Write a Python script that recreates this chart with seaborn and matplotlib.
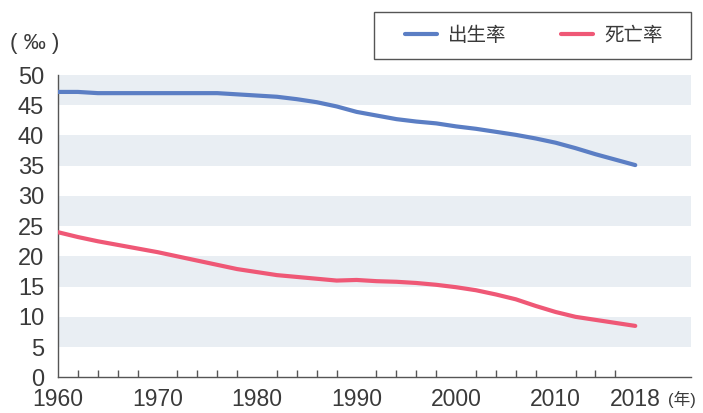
import pandas as pd
import matplotlib.pyplot as plt
import matplotlib.ticker as mticker
from matplotlib.patches import Rectangle
import seaborn as sns

years = list(range(1960, 2019, 2))
birth_rate = [47.2, 47.2, 47.0, 47.0, 47.0, 47.0, 47.0, 47.0, 47.0, 46.8,
              46.6, 46.4, 46.0, 45.5, 44.8, 43.9, 43.3, 42.7, 42.3, 42.0,
              41.5, 41.1, 40.6, 40.1, 39.5, 38.8, 37.9, 36.9, 36.0, 35.1]
death_rate = [24.0, 23.2, 22.5, 21.9, 21.3, 20.7, 20.0, 19.3, 18.6, 17.9,
              17.4, 16.9, 16.6, 16.3, 16.0, 16.1, 15.9, 15.8, 15.6, 15.3,
              14.9, 14.4, 13.7, 12.9, 11.8, 10.8, 10.0, 9.5, 9.0, 8.5]
series_names = ['出生率', '死亡率']
x_ticks = [1960, 1970, 1980, 1990, 2000, 2010, 2018]

df = pd.concat([
    pd.DataFrame({'year': years, 'rate': birth_rate, 'series': series_names[0]}),
    pd.DataFrame({'year': years, 'rate': death_rate, 'series': series_names[1]}),
])

sns.set_theme(style='white')
plt.rcParams['font.family'] = ['Liberation Sans', 'Noto Sans CJK SC', 'DejaVu Sans']
text_color = '#3a3a3a'
colors = ['#5b7ec4', '#ef5876']

fig = plt.figure(figsize=(7.03, 4.13), dpi=100)
ax = fig.add_axes([58 / 703, 1 - 377.3 / 413, 633 / 703, 302.3 / 413])

# alternating grey bands
for lo in range(5, 50, 10):
    ax.axhspan(lo, lo + 5, color='#e9eef3', lw=0, zorder=0)

sns.lineplot(data=df, x='year', y='rate', hue='series',
             palette=colors, linewidth=3.0,
             ax=ax, legend=False, zorder=3)
for line in ax.get_lines():
    line.set_solid_capstyle('round')

ax.set_xlim(1960, 2023.6)
ax.set_ylim(0, 50)
ax.set_xlabel('')
ax.set_ylabel('')

ax.set_yticks(range(0, 51, 5))
ax.set_xticks(x_ticks)
ax.xaxis.set_minor_locator(mticker.FixedLocator(
    [y for y in range(1962, 2017, 2) if y not in x_ticks]))

for side in ['top', 'right']:
    ax.spines[side].set_visible(False)
for side in ['left', 'bottom']:
    ax.spines[side].set_color('#555555')
    ax.spines[side].set_linewidth(1.0)

ax.tick_params(axis='y', which='major', direction='out', length=6, width=1,
               color='#555555', labelsize=17, labelcolor=text_color, pad=4)
ax.tick_params(axis='x', which='major', direction='inout', length=10, width=1,
               color='#555555', labelsize=16.5, labelcolor=text_color, pad=3)
ax.tick_params(axis='x', which='minor', direction='in', length=5, width=1,
               color='#555555', bottom=True)

fig.text(10 / 703, 1 - 43 / 413, '( ‰ )', fontsize=16, color=text_color,
         va='center', ha='left')
fig.text(668 / 703, 1 - 399 / 413, '(年)', fontsize=12, color=text_color,
         va='center', ha='left')

# legend box drawn separately so its padding matches
fig.patches.append(Rectangle((374 / 703, 1 - 59 / 413), 317 / 703, 47 / 413,
                             transform=fig.transFigure, fill=False,
                             edgecolor='#555555', linewidth=1.0))
handles = [plt.Line2D([], [], color=c, lw=3.0, solid_capstyle='round')
           for c in colors]
leg = fig.legend(handles, series_names, loc='center left',
                 bbox_to_anchor=(405 / 703, 1 - 35.5 / 413), ncol=2,
                 frameon=False, handlelength=1.65, handletextpad=0.57,
                 columnspacing=2.8, borderpad=0, borderaxespad=0,
                 prop={'family': ['Noto Sans CJK SC'], 'size': 14})
for t in leg.get_texts():
    t.set_color(text_color)

fig.savefig('out.png', dpi=100)
